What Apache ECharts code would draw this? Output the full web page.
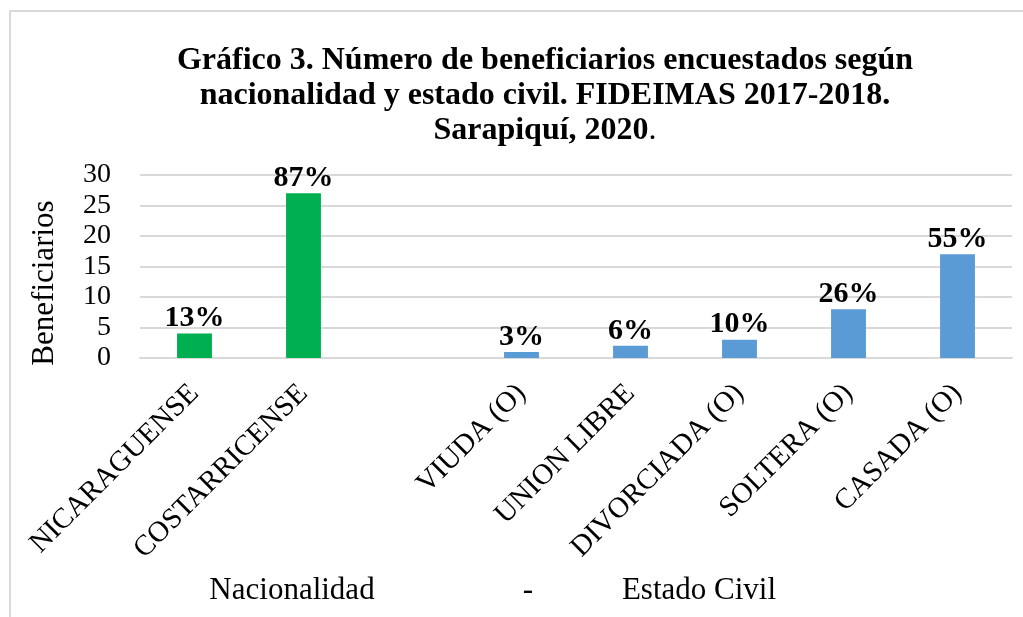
<!DOCTYPE html>
<html>
<head>
<meta charset="utf-8">
<script src="https://cdn.jsdelivr.net/npm/echarts@6/dist/echarts.min.js"></script>
<style>
  html, body { margin: 0; padding: 0; overflow: hidden; background: #fff; }
  .frame {
    position: absolute; left: 9px; top: 10px;
    width: 1100px; height: 700px;
    border: 2px solid #d9d9d9;
  }
  #chart { position: absolute; left: 0; top: 0; width: 1023px; height: 617px; }
</style>
</head>
<body>
<div class="frame"></div>
<div id="chart"></div>
<script>
// categorias (el hueco vacio separa nacionalidad de estado civil)
var categories = ["NICARAGUENSE", "COSTARRICENSE", "", "VIUDA (O)", "UNION LIBRE", "DIVORCIADA (O)", "SOLTERA (O)", "CASADA (O)"];
// beneficiarios
var nacionalidad = [4, 27, null, null, null, null, null, null];
var estadoCivil = [null, null, null, 1, 2, 3, 8, 17];
// etiquetas de porcentaje
var pctLabels = ["13%", "87%", "", "3%", "6%", "10%", "26%", "55%"];
var yTicks = [0, 5, 10, 15, 20, 25, 30];

var serif = "'Liberation Serif', 'Times New Roman', serif";
var myChart = echarts.init(document.getElementById("chart"));

function labelCfg() {
  return {
    show: true,
    position: "top",
    distance: 0,
    fontFamily: serif,
    fontWeight: "bold",
    fontSize: 30,
    color: "#000",
    formatter: function (p) { return pctLabels[p.dataIndex]; }
  };
}

var titleFont = { fontFamily: serif, fontSize: 32, lineHeight: 35, color: "#000" };

var option = {
  animation: false,
  title: {
    text: "{b|Gráfico 3. Número de beneficiarios encuestados según}\n{b|nacionalidad y estado civil. FIDEIMAS 2017-2018.}\n{b|Sarapiquí, 2020}{n|.}",
    left: 540,
    textAlign: "center",
    top: 38,
    textStyle: {
      rich: {
        b: Object.assign({ fontWeight: "bold" }, titleFont),
        n: Object.assign({ fontWeight: "normal" }, titleFont)
      }
    }
  },
  grid: { left: 140, right: 11, top: 175, bottom: 259 },
  xAxis: {
    type: "category",
    data: categories,
    axisLine: { lineStyle: { color: "#d9d9d9", width: 2 } },
    axisTick: { show: false },
    axisLabel: {
      interval: 0,
      rotate: 45,
      margin: 31,
      fontFamily: serif,
      fontSize: 29,
      color: "#000"
    },
    name: "{a|Nacionalidad}{b|-}{c|Estado Civil}",
    nameLocation: "middle",
    nameGap: 217,
    nameTextStyle: {
      padding: [0, 226, 0, 0],
      rich: {
        a: { width: 384, align: "center", fontFamily: serif, fontSize: 31, color: "#000" },
        b: { width: 88, align: "center", fontFamily: serif, fontSize: 31, color: "#000" },
        c: { width: 254, align: "center", fontFamily: serif, fontSize: 31, color: "#000" }
      }
    }
  },
  yAxis: {
    type: "value",
    min: yTicks[0],
    max: yTicks[yTicks.length - 1],
    interval: 5,
    axisLine: { show: false },
    axisTick: { show: false },
    splitLine: { lineStyle: { color: "#d9d9d9", width: 2 } },
    axisLabel: {
      margin: 29,
      fontFamily: serif,
      fontSize: 28,
      color: "#000"
    },
    name: "Beneficiarios",
    nameLocation: "middle",
    nameGap: 80,
    nameTextStyle: {
      fontFamily: serif,
      fontSize: 31,
      color: "#000",
      padding: [0, 33, 0, 0]
    }
  },
  series: [
    {
      name: "Nacionalidad",
      type: "bar",
      stack: "t",
      data: nacionalidad,
      barWidth: "32%",
      itemStyle: { color: "#00b050" },
      label: labelCfg()
    },
    {
      name: "Estado Civil",
      type: "bar",
      stack: "t",
      data: estadoCivil,
      barWidth: "32%",
      itemStyle: { color: "#5b9bd5" },
      label: labelCfg()
    }
  ]
};
myChart.setOption(option);
window.addEventListener("resize", function () { myChart.resize(); });
</script>
</body>
</html>
